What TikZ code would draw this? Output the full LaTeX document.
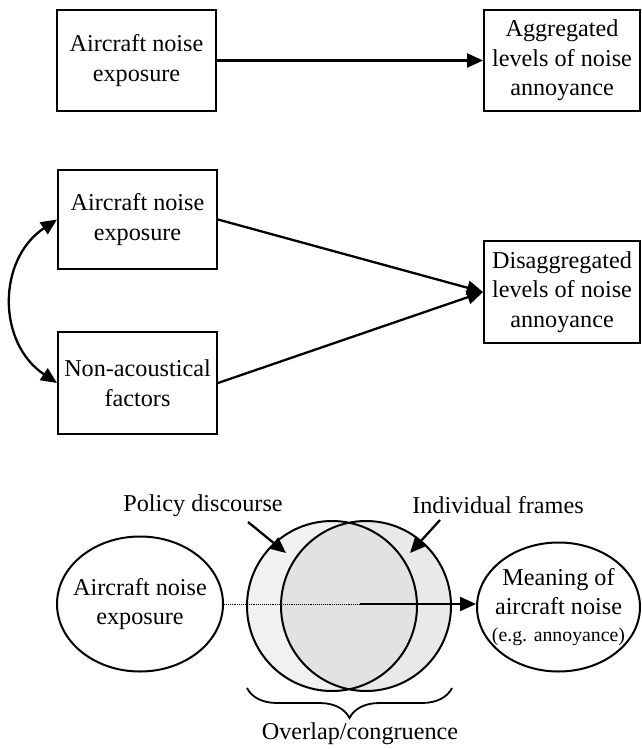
\documentclass[tikz,border=0pt]{standalone}
\usepackage{fontspec}
\setmainfont{Liberation Serif}
\usetikzlibrary{arrows.meta,shapes.geometric,decorations.pathreplacing}
\definecolor{pLight}{gray}{0.945}
\definecolor{pMid}{gray}{0.915}
\definecolor{pDark}{gray}{0.885}
\tikzset{
    box/.style={rectangle, draw, line width=2pt, align=center, inner sep=0pt, font=\fontsize{24.2}{29.5}\selectfont},
    oval/.style={ellipse, draw, line width=2pt, align=center, inner sep=0pt, inner xsep=-9pt, font=\fontsize{24.2}{29.5}\selectfont},
    lbl/.style={font=\fontsize{24.2}{29.5}\selectfont},
    arr/.style={line width=2.3pt, -{Triangle[length=16pt,width=14pt]}},
    darr/.style={line width=2.3pt, {Triangle[length=16pt,width=14pt]}-{Triangle[length=16pt,width=14pt]}}
}

\begin{document}
\begin{tikzpicture}[x=1pt,y=-1pt]
\useasboundingbox (0,0) rectangle (641,749);
% aggregated
\node[box,minimum width=159pt,minimum height=101pt] (expA) at (136.5,60.5) {Aircraft noise\\exposure};
\node[box,minimum width=156pt,minimum height=101pt] (aggr) at (562,60.5) {Aggregated\\levels of noise\\annoyance};
\draw[arr] (expA) -- (aggr);
% disaggregated
\node[box,minimum width=159pt,minimum height=99pt] (expB) at (137.5,219.5) {Aircraft noise\\exposure};
\node[box,minimum width=159pt,minimum height=102pt] (nonac) at (137.5,383) {Non-acoustical\\factors};
\node[box,minimum width=156pt,minimum height=102pt] (disag) at (562,292) {Disaggregated\\levels of noise\\annoyance};
\draw[arr] (expB.east) -- (disag.west);
\draw[arr] (nonac.east) -- (disag.west);
\draw[darr] (expB.west) .. controls +(-60,40) and +(-60,-40) .. (nonac.west);
% frames
\fill[pLight] (332,606) circle (85);
\fill[pMid] (366,606) circle (85);
\begin{scope}
\clip (332,606) circle (85);
\fill[pDark] (366,606) circle (85);
\end{scope}
\draw[line width=2pt] (332,606) circle (85) (366,606) circle (85);
\node[oval,minimum width=166pt,minimum height=135pt] (expC) at (140,604) {Aircraft noise\\exposure};
\node[oval,minimum width=163pt,minimum height=129pt] (mean) at (558.5,607) {Meaning of\\aircraft noise\\[-3pt]{\fontsize{19.8}{24}\selectfont (e.g. annoyance)}};
\coordinate (mid) at (360,604);
\draw[line width=0.9pt,densely dotted] (expC.east) -- (mid);
\draw[arr] (mid) -- (mid -| mean.west);
\node[lbl] (plabel) at (203,506) {Policy discourse};
\node[lbl] (ilabel) at (498,505) {Individual frames};
\coordinate (pfrom) at (248,522);
\coordinate (pto) at (286,553);
\coordinate (ifrom) at (440,520);
\coordinate (ito) at (410,553);
\draw[arr] (pfrom) -- (pto);
\draw[arr] (ifrom) -- (ito);
\draw[line width=1.8pt,decorate,decoration={brace,amplitude=30pt,mirror}] (247,688) -- (452,688);
\node[lbl] (olap) at (360,734) {Overlap/congruence};
\end{tikzpicture}
\end{document}
